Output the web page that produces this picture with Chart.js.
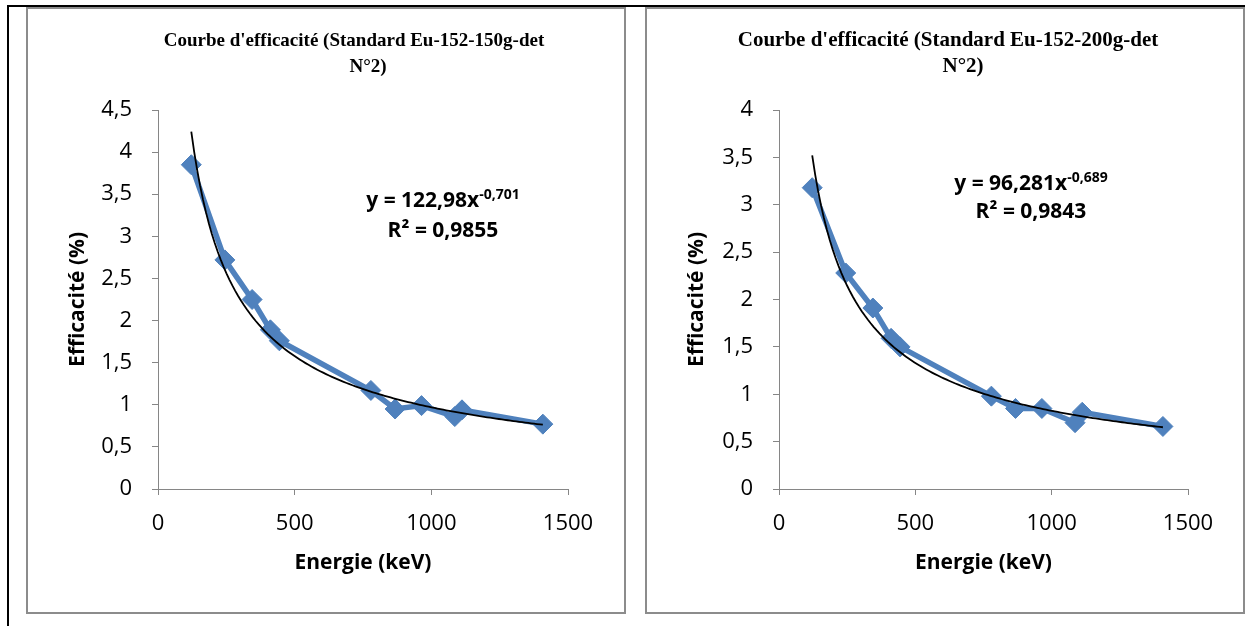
<!DOCTYPE html>
<html>
<head>
<meta charset="utf-8">
<script src="https://cdn.jsdelivr.net/npm/chart.js"></script>
<style>
  body { margin: 0; background: #fff; width: 1245px; height: 626px; position: relative; overflow: hidden; }
  .topline { position: absolute; left: 7px; top: 5px; width: 1238px; height: 2px; background: #000; }
  .leftline { position: absolute; left: 7px; top: 5px; width: 2px; height: 621px; background: #000; }
  .box { position: absolute; top: 7px; width: 600px; height: 607px; border: 2px solid #8c8c8c; box-sizing: border-box; background: #fff; }
  .box canvas { display: block; }
</style>
</head>
<body>
<div class="topline"></div>
<div class="leftline"></div>
<div class="box" style="left:26px"><canvas id="chart150" width="596" height="603"></canvas></div>
<div class="box" style="left:645px"><canvas id="chart200" width="596" height="603"></canvas></div>

<script>
// Eu-152 gamma lines (keV)
const energies = [121.78, 244.7, 344.28, 411.1, 443.96, 778.9, 867.4, 964.1, 1085.8, 1112.1, 1408.0];
// efficiency (%)
const eff150 = [3.85, 2.72, 2.25, 1.89, 1.76, 1.17, 0.95, 0.99, 0.86, 0.94, 0.77];
const eff200 = [3.18, 2.28, 1.91, 1.59, 1.50, 0.98, 0.85, 0.85, 0.70, 0.81, 0.66];

const xTicks = [0, 500, 1000, 1500];
const yTicks150 = [0, 0.5, 1, 1.5, 2, 2.5, 3, 3.5, 4, 4.5];
const yTicks200 = [0, 0.5, 1, 1.5, 2, 2.5, 3, 3.5, 4];

// power trendlines printed on the charts: y = a * x^b
const fit150 = { a: 122.98, b: -0.701, r2: 0.9855 };
const fit200 = { a: 96.281, b: -0.689, r2: 0.9843 };

const comma = v => String(v).replace('.', ',');

function trendPoints(fit) {
  const x0 = energies[0], x1 = energies[energies.length - 1];
  const pts = [];
  for (let i = 0; i <= 120; i++) {
    const x = x0 + (x1 - x0) * i / 120;
    pts.push({ x: x, y: fit.a * Math.pow(x, fit.b) });
  }
  return pts;
}

// titles + trendline equation
const textPlugin = {
  id: 'textBlocks',
  afterDraw(chart, args, o) {
    const ctx = chart.ctx;
    const area = chart.chartArea;
    ctx.save();
    ctx.fillStyle = '#000';
    ctx.textBaseline = 'alphabetic';
    ctx.textAlign = 'center';
    ctx.font = 'bold ' + o.titleSize + 'px "Liberation Serif", "Times New Roman", serif';
    o.title.forEach((line, i) => ctx.fillText(line, o.titleX[i], o.titleY[i]));

    // equation line: "y = a x" + superscript b
    const cx = area.left + o.eqDx;
    const main = 'y = ' + comma(o.fit.a) + 'x';
    const sup = comma(o.fit.b);
    ctx.font = 'bold 21px "Open Sans", sans-serif';
    const wMain = ctx.measureText(main).width;
    ctx.font = 'bold 14px "Open Sans", sans-serif';
    const wSup = ctx.measureText(sup).width;
    const x0 = cx - (wMain + wSup) / 2;
    ctx.textAlign = 'left';
    ctx.font = 'bold 21px "Open Sans", sans-serif';
    ctx.fillText(main, x0, o.eqY[0]);
    ctx.font = 'bold 14px "Open Sans", sans-serif';
    ctx.fillText(sup, x0 + wMain, o.eqY[0] - 8);
    ctx.textAlign = 'center';
    ctx.font = 'bold 21px "Open Sans", sans-serif';
    ctx.fillText('R\u00b2 = ' + comma(o.fit.r2), cx, o.eqY[1]);
    ctx.restore();
  }
};

function makeChart(id, values, fit, yTicks, opt) {
  const axisGrey = '#868686';
  const tickFont = { family: '"Open Sans", sans-serif', size: 22 };
  const titleFont = { family: '"Open Sans", sans-serif', size: 21, weight: 'bold', lineHeight: 1.2 };
  return new Chart(document.getElementById(id), {
    type: 'scatter',
    data: {
      datasets: [
        {
          label: 'trend',
          data: trendPoints(fit),
          showLine: true,
          borderColor: '#000',
          borderWidth: 1.8,
          pointRadius: 0,
          order: 0
        },
        {
          label: 'eff',
          data: energies.map((e, i) => ({ x: e, y: values[i] })),
          showLine: true,
          borderColor: '#4F81BD',
          backgroundColor: '#4F81BD',
          borderWidth: 5.5,
          pointStyle: 'rectRot',
          pointRadius: 10,
          pointBorderWidth: 1,
          pointBorderColor: '#4F81BD',
          order: 1
        }
      ]
    },
    options: {
      responsive: false,
      animation: false,
      layout: { padding: { top: 101, right: opt.padRight, left: 0, bottom: 0 } },
      plugins: {
        legend: { display: false },
        tooltip: { enabled: false },
        textBlocks: opt.text
      },
      scales: {
        x: {
          type: 'linear',
          min: xTicks[0],
          max: xTicks[xTicks.length - 1],
          afterBuildTicks: s => { s.ticks = xTicks.map(v => ({ value: v })); },
          afterFit: s => { s.height = 123; },
          border: { color: axisGrey, width: 1 },
          grid: { drawOnChartArea: false, drawTicks: true, tickLength: 6, color: axisGrey },
          ticks: { font: tickFont, color: '#000', padding: 16, maxRotation: 0, callback: v => String(v) },
          title: { display: true, text: 'Energie (keV)', font: titleFont, color: '#000', padding: { bottom: 36 } }
        },
        y: {
          min: yTicks[0],
          max: yTicks[yTicks.length - 1],
          afterBuildTicks: s => { s.ticks = yTicks.map(v => ({ value: v })); },
          afterFit: s => { s.width = opt.yWidth; },
          border: { color: axisGrey, width: 1 },
          grid: { drawOnChartArea: false, drawTicks: true, tickLength: 6, color: axisGrey },
          ticks: { font: tickFont, color: '#000', padding: 20, callback: v => comma(v) },
          title: { display: true, text: 'Efficacit\u00e9 (%)', font: titleFont, color: '#000', padding: { top: 37 } }
        }
      }
    },
    plugins: [textPlugin]
  });
}

makeChart('chart150', eff150, fit150, yTicks150, {
  yWidth: 130,
  padRight: 56,
  text: {
    title: ["Courbe d'efficacit\u00e9 (Standard Eu-152-150g-det", 'N\u00b02)'],
    titleSize: 19,
    titleX: [326, 340],
    titleY: [37, 63],
    fit: fit150,
    eqDx: 285,
    eqY: [198, 228]
  }
});

makeChart('chart200', eff200, fit200, yTicks200, {
  yWidth: 132,
  padRight: 55,
  text: {
    title: ["Courbe d'efficacit\u00e9 (Standard Eu-152-200g-det", 'N\u00b02)'],
    titleSize: 21,
    titleX: [301, 316],
    titleY: [37, 63],
    fit: fit200,
    eqDx: 252,
    eqY: [181, 209]
  }
});
</script>
</body>
</html>
